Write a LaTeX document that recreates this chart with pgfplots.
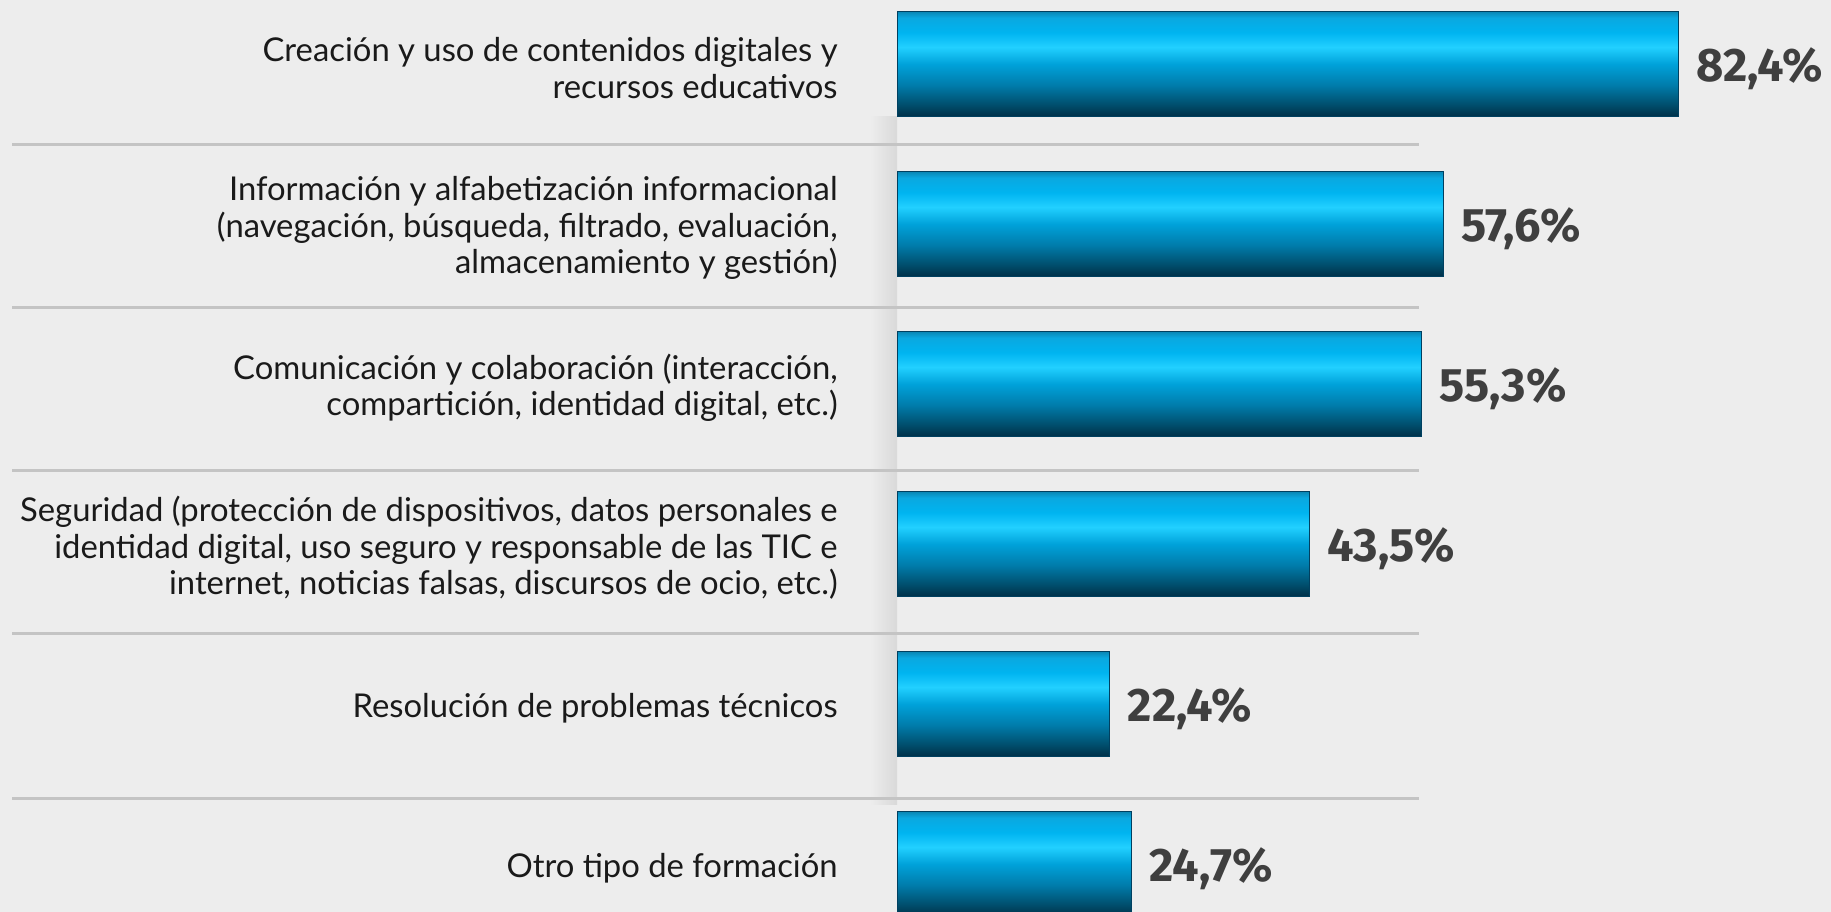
\documentclass[border=0pt]{standalone}
\usepackage{fontspec}
\setmainfont{Lato}
\newfontfamily\valfont{Fira Sans}
\usepackage{pgfplots}
\pgfplotsset{compat=1.18}
\definecolor{bg}{HTML}{EDEDED}
\definecolor{sepc}{HTML}{C4C4C4}
\definecolor{valc}{HTML}{3F3F3F}
\definecolor{labc}{HTML}{1A1A1A}
\definecolor{s1}{HTML}{003048}
\definecolor{s2}{HTML}{00506F}
\definecolor{s3}{HTML}{007CAB}
\definecolor{s4}{HTML}{00A2DA}
\definecolor{s5}{HTML}{22D0FF}
\definecolor{s6}{HTML}{00B4F0}
\definecolor{s7}{HTML}{0AA8E0}
\definecolor{s8}{HTML}{0A86B4}
\definecolor{edge}{HTML}{004060}
\pgfdeclareverticalshading{barshade}{100bp}{color(0bp)=(s1); color(25bp)=(s1); color(31bp)=(s2); color(40bp)=(s3); color(50bp)=(s4); color(58bp)=(s5); color(65bp)=(s6); color(72bp)=(s7); color(75bp)=(s8); color(100bp)=(s8)}
\pgfplotsset{onebar/.style={xbar, bar width=52.5pt, bar shift=0pt, shading=barshade, draw=edge, line width=0.4pt,
  nodes near coords={\pgfmathprintnumber[fixed,fixed zerofill,precision=1,use comma,assume math mode=true]{\pgfplotspointmeta}\%},
  nodes near coords style={anchor=west, font=\valfont\bfseries\fontsize{23.5}{26}\selectfont, text=valc, inner sep=0pt, xshift=9pt, yshift=-2.5pt}}}
\begin{document}
\begin{tikzpicture}
\begin{axis}[
  scale only axis, width=915.5pt, height=456pt,
  xmin=-94.64, xmax=98.54, ymin=-0.4, ymax=5.3, y dir=reverse,
  axis line style={draw=none},
  major tick length=0pt,
  tick style={draw=none},
  axis background/.style={fill=bg},
  xtick=\empty,
  ytick={0,1,2,3,4,5},
  yticklabels={
    {Creación y uso de contenidos digitales y\\recursos educativos},
    {Información y alfabetización informacional\\(navegación, búsqueda, filtrado, evaluación,\\almacenamiento y gestión)},
    {Comunicación y colaboración (interacción,\\compartición, identidad digital, etc.)},
    {Seguridad (protección de dispositivos, datos personales e\\identidad digital, uso seguro y responsable de las TIC e\\internet, noticias falsas, discursos de ocio, etc.)},
    {Resolución de problemas técnicos},
    {Otro tipo de formación}},
  yticklabel style={anchor=east, xshift=419pt, yshift=-2pt, align=right, inner sep=0pt,
    font=\fontsize{16.4}{18.2}\selectfont, text=labc},
]
\shade[left color=bg, right color=gray!30] (axis cs:-2.85,0.33) rectangle (axis cs:0,4.63);
\foreach \yy in {0.5,1.52,2.54,3.56,4.59}{
  \edef\temp{\noexpand\draw[sepc, line width=1.5pt] (axis cs:-93.37,\yy) -- (axis cs:55.07,\yy);}
  \temp
}
\addplot[onebar] coordinates {(82.4,0)};
\addplot[onebar] coordinates {(57.6,1)};
\addplot[onebar] coordinates {(55.3,2)};
\addplot[onebar] coordinates {(43.5,3)};
\addplot[onebar] coordinates {(22.4,4)};
\addplot[onebar] coordinates {(24.7,5)};
\end{axis}
\end{tikzpicture}
\end{document}
